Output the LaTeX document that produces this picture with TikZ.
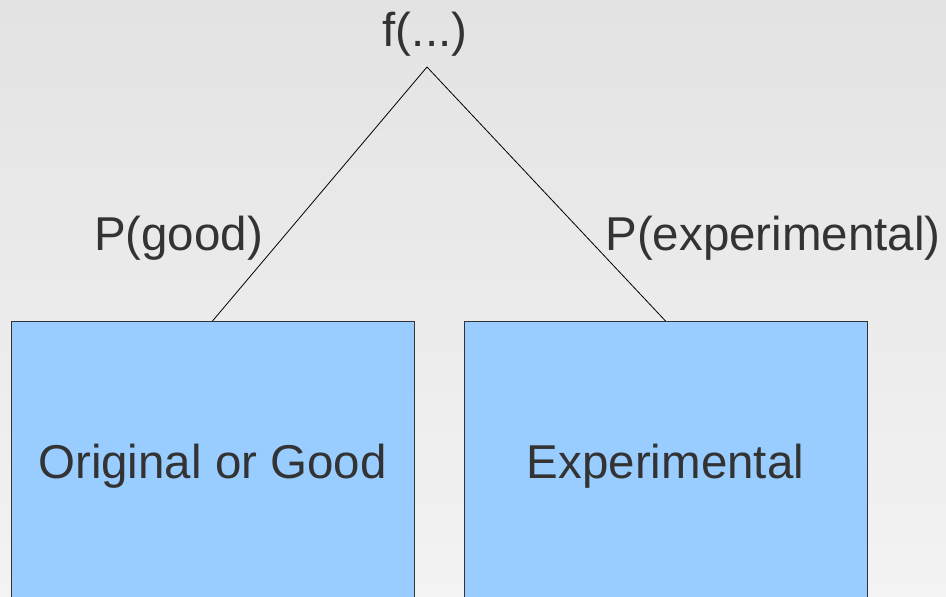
\documentclass[tikz,border=0pt]{standalone}
\usepackage{fontspec}
\setmainfont{Liberation Sans}
\definecolor{bgtop}{HTML}{E3E3E3}
\definecolor{bgbot}{HTML}{F3F3F3}
\definecolor{boxfill}{HTML}{99CCFF}
\definecolor{txt}{HTML}{333333}
\begin{document}
\begin{tikzpicture}[x=1pt,y=-1pt,
  bigtext/.style={font=\fontsize{47.5}{57}\selectfont, text=txt, inner sep=0pt, anchor=base},
  bluebox/.style={draw=black!80, line width=1pt, fill=boxfill, minimum width=403pt, minimum height=400pt, anchor=north, inner sep=0pt},
  edge/.style={draw=black, line width=0.8pt}]
  \useasboundingbox (0,0) rectangle (946,597);
  \clip (0,0) rectangle (946,597);
  \shade[top color=bgtop, bottom color=bgbot] (0,0) rectangle (946,597);
  \node[bluebox] (good) at (212.5,321) {};
  \node[bluebox] (exp) at (665.5,321) {};
  \node[bigtext] (goodlbl) at (212.5,478) {Original or Good};
  \node[bigtext] (explbl) at (665.5,478) {Experimental};
  \node[bigtext] (ftxt) at (425,46) {f(...)};
  \coordinate (apex) at (427,67);
  \draw[edge] (apex) -- (good.north);
  \draw[edge] (apex) -- (exp.north);
  \node[bigtext] (pgood) at (178.5,250) {P(good)};
  \node[bigtext] (pexp) at (773,250) {P(experimental)};
\end{tikzpicture}
\end{document}
